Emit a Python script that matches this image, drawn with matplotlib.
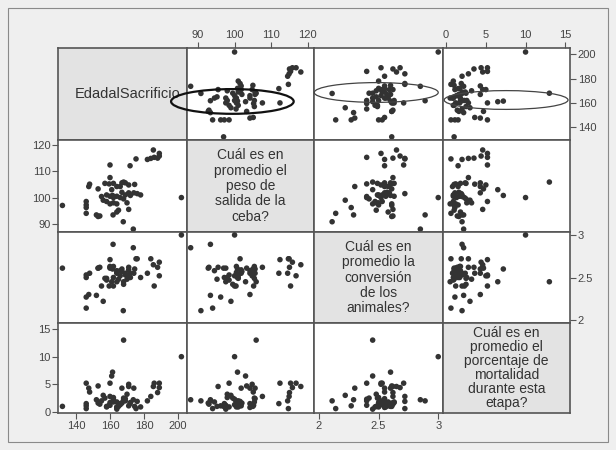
import matplotlib
matplotlib.use("Agg")
import matplotlib.pyplot as plt
from matplotlib.patches import Ellipse, Rectangle

plt.rcParams['font.family'] = ['Liberation Sans', 'DejaVu Sans']

# ---- data (one entry per observation) ----
edad = [132, 146, 146, 146, 146, 147.5, 148, 153, 152, 153, 154, 160, 160, 157, 159.5,
        162, 161.8, 164, 166, 155, 158, 160, 162, 164, 166, 160, 162, 164, 164, 165,
        167.8, 173.7, 167, 169, 171, 167, 169, 171, 172, 174, 176, 178, 171, 174.5,
        171.8, 175.3, 182, 184, 186, 188, 185.5, 189, 189, 202, 168, 161.5, 161, 156,
        158, 168, 170]
peso = [97.0, 98.5, 97.2, 96.2, 94.0, 104.2, 105.1, 103.3, 93.4, 92.8, 93.0, 112.4, 107.6,
        105.4, 105.2, 105.4, 93.4, 104.2, 104.2, 100.4, 101.0, 100.5, 100.0, 100.5, 100.0,
        97.6, 98.0, 97.6, 94.5, 95.2, 90.8, 88.0, 105.6, 105.6, 104.8, 102.0, 101.0, 101.8,
        100.8, 101.8, 101.5, 101.0, 95.5, 105.0, 112.1, 114.7, 114.5, 114.9, 115.3, 115.0,
        118.1, 116.8, 115.8, 100.0, 105.9, 100.8, 103.0, 99.0, 98.5, 99.5, 98.0]
conv = [2.61, 2.53, 2.50, 2.27, 2.14, 2.30, 2.55, 2.61, 2.29, 2.61, 2.62, 2.71, 2.62, 2.49,
        2.40, 2.63, 2.89, 2.55, 2.58, 2.40, 2.49, 2.63, 2.40, 2.56, 2.52, 2.61, 2.50, 2.45,
        2.58, 2.48, 2.11, 2.85, 2.60, 2.55, 2.52, 2.57, 2.53, 2.59, 2.50, 2.55, 2.72, 2.50,
        2.62, 2.60, 2.55, 2.72, 2.55, 2.72, 2.40, 2.62, 2.65, 2.52, 2.68, 3.00, 2.45, 2.60,
        2.45, 2.22, 2.47, 2.42, 2.48]
mort = [1.0, 5.2, 1.5, 1.1, 0.6, 4.3, 3.6, 4.7, 2.2, 1.6, 1.4, 5.2, 2.8, 2.5, 1.2, 1.8, 2.0,
        0.8, 1.5, 2.0, 1.0, 1.7, 2.3, 0.9, 1.3, 1.2, 2.6, 0.5, 1.8, 1.0, 2.0, 2.2, 4.3, 2.4,
        5.0, 1.6, 2.0, 1.1, 1.7, 4.3, 1.9, 0.9, 4.6, 1.0, 1.5, 0.6, 2.0, 2.8, 5.2, 3.5, 4.6,
        5.2, 4.4, 10.0, 13.0, 7.2, 6.5, 3.0, 0.9, 2.5, 3.2]

var_labels = ["EdadalSacrificio",
              "Cuál es en\npromedio el\npeso de\nsalida de la\nceba?",
              "Cuál es en\npromedio la\nconversión\nde los\nanimales?",
              "Cuál es en\npromedio el\nporcentaje de\nmortalidad\ndurante esta\netapa?"]
ticks = [[140, 160, 180, 200], [90, 100, 110, 120], [2, 2.5, 3], [0, 5, 10, 15]]
tick_labels = [["140", "160", "180", "200"], ["90", "100", "110", "120"],
               ["2", "2.5", "3"], ["0", "5", "10", "15"]]
# (center_x, center_y, width, height) in data units for the row-1 ellipses
ellipses = {1: (99.4, 161.2, 33.5, 20.4), 2: (2.48, 168.6, 1.04, 16.3), 3: (7.55, 162.4, 15.6, 15.5)}

data = [edad, peso, conv, mort]
xlims = [(129.4, 205.3), (87.0, 121.7), (1.958, 3.04), (-0.4, 15.6)]
ylims = [(129.4, 205.3), (86.9, 121.9), (1.965, 3.035), (-0.2, 16.1)]

W, H = 616, 450
fig = plt.figure(figsize=(W / 100, H / 100), dpi=100)
fig.patch.set_facecolor("#efefef")
fig.patches.append(Rectangle((8 / W, 8 / H), 600 / W, 434 / H, transform=fig.transFigure,
                             fill=False, edgecolor="#8a8a8a", lw=0.8))

xe = [58, 187, 314, 443, 570]
ye = [48, 140, 232, 323, 413]
spine_c = "#555555"
text_c = "#444444"
line_sp = [1.0, 1.12, 1.12, 1.0]

for r in range(4):
    for c in range(4):
        x0, x1 = xe[c], xe[c + 1]
        y0, y1 = ye[r], ye[r + 1]
        ax = fig.add_axes([x0 / W, 1 - y1 / H, (x1 - x0) / W, (y1 - y0) / H])
        ax.set_xlim(*xlims[c])
        ax.set_ylim(*ylims[r])
        for s in ax.spines.values():
            s.set_color(spine_c)
            s.set_linewidth(1.2)
        ax.tick_params(colors=spine_c, labelcolor=text_c, labelsize=8, length=4,
                       width=0.8, direction="out", pad=1.5)
        ax.set_xticks([])
        ax.set_yticks([])
        if r == c:
            ax.set_facecolor("#e3e3e3")
            if r == 0:
                ax.text(0.54, 0.5, var_labels[r], transform=ax.transAxes, ha="center",
                        va="center", fontsize=10.5, color="#333333")
            else:
                ax.text(0.5, 0.5, var_labels[r], transform=ax.transAxes, ha="center",
                        va="center", fontsize=10, color="#333333", linespacing=line_sp[r])
        else:
            ax.set_facecolor("white")
            ax.scatter(data[c], data[r], s=16, color="#333333", edgecolors="none",
                       zorder=3, clip_on=False)
            if r == 0 and c in ellipses:
                cx, cy, ew, eh = ellipses[c]
                lw = 1.6 if c == 1 else 0.9
                ec = "#111111" if c == 1 else "#444444"
                e = Ellipse((cx, cy), ew, eh, fill=False, edgecolor=ec, lw=lw,
                            zorder=4, clip_on=False)
                ax.add_patch(e)
        # axis ticks on the outer edges, alternating sides
        if r == 3 and c in (0, 2):
            ax.set_xticks(ticks[c])
            ax.set_xticklabels(tick_labels[c])
        if r == 0 and c in (1, 3):
            ax.xaxis.tick_top()
            ax.set_xticks(ticks[c])
            ax.set_xticklabels(tick_labels[c])
        if c == 0 and r in (1, 3):
            ax.set_yticks(ticks[r])
            ax.set_yticklabels(tick_labels[r])
        if c == 3 and r in (0, 2):
            ax.yaxis.tick_right()
            ax.set_yticks(ticks[r])
            ax.set_yticklabels(tick_labels[r])

fig.savefig("out.png", dpi=100, facecolor=fig.get_facecolor())
